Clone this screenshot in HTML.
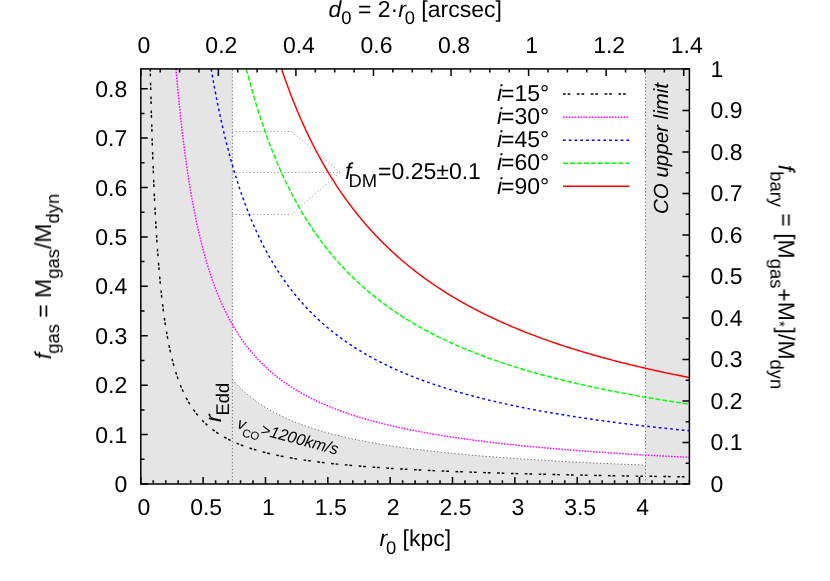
<!DOCTYPE html>
<html><head><meta charset="utf-8"><title>plot</title>
<style>html,body{margin:0;padding:0;background:#fff;}svg{display:block;}text{font-family:"Liberation Sans",sans-serif;fill:#000;text-rendering:geometricPrecision;}.i{font-style:italic;}</style></head><body>
<svg width="830" height="581" viewBox="0 0 830 581">
<rect width="830" height="581" fill="#fff"/>
<rect x="140.8" y="68.9" width="91.60" height="415.1" fill="#e5e5e5"/>
<rect x="645.51" y="68.9" width="43.89" height="415.1" fill="#e5e5e5"/>
<path d="M232.40,379.75 L234.47,382.04 L236.53,384.24 L238.60,386.35 L240.67,388.37 L242.73,390.31 L244.80,392.17 L246.86,393.96 L248.93,395.68 L250.99,397.33 L253.06,398.93 L255.12,400.47 L257.19,401.95 L259.26,403.38 L261.32,404.76 L263.39,406.10 L265.45,407.39 L267.52,408.63 L269.58,409.84 L271.65,411.01 L273.71,412.15 L275.78,413.25 L277.85,414.31 L279.91,415.35 L281.98,416.35 L284.04,417.33 L286.11,418.28 L288.17,419.20 L290.24,420.09 L292.30,420.96 L294.37,421.81 L296.44,422.64 L298.50,423.44 L300.57,424.22 L302.63,424.99 L304.70,425.73 L306.76,426.46 L308.83,427.16 L310.89,427.85 L312.96,428.53 L315.03,429.19 L317.09,429.83 L319.16,430.45 L321.22,431.07 L323.29,431.67 L325.35,432.25 L327.42,432.83 L329.48,433.39 L331.55,433.93 L333.62,434.47 L335.68,435.00 L337.75,435.51 L339.81,436.01 L341.88,436.51 L343.94,436.99 L346.01,437.46 L348.07,437.93 L350.14,438.38 L352.21,438.83 L354.27,439.26 L356.34,439.69 L358.40,440.11 L360.47,440.52 L362.53,440.93 L364.60,441.33 L366.66,441.72 L368.73,442.10 L370.80,442.48 L372.86,442.85 L374.93,443.21 L376.99,443.57 L379.06,443.92 L381.12,444.26 L383.19,444.60 L385.25,444.93 L387.32,445.26 L389.38,445.58 L391.45,445.90 L393.52,446.21 L395.58,446.52 L397.65,446.82 L399.71,447.11 L401.78,447.41 L403.84,447.69 L405.91,447.98 L407.97,448.26 L410.04,448.53 L412.11,448.80 L414.17,449.07 L416.24,449.33 L418.30,449.59 L420.37,449.84 L422.43,450.09 L424.50,450.34 L426.56,450.58 L428.63,450.82 L430.70,451.06 L432.76,451.29 L434.83,451.52 L436.89,451.75 L438.96,451.97 L441.02,452.19 L443.09,452.41 L445.15,452.62 L447.22,452.83 L449.29,453.04 L451.35,453.25 L453.42,453.45 L455.48,453.65 L457.55,453.85 L459.61,454.04 L461.68,454.24 L463.74,454.43 L465.81,454.62 L467.88,454.80 L469.94,454.98 L472.01,455.17 L474.07,455.34 L476.14,455.52 L478.20,455.70 L480.27,455.87 L482.33,456.04 L484.40,456.21 L486.47,456.37 L488.53,456.54 L490.60,456.70 L492.66,456.86 L494.73,457.02 L496.79,457.17 L498.86,457.33 L500.92,457.48 L502.99,457.63 L505.06,457.78 L507.12,457.93 L509.19,458.08 L511.25,458.22 L513.32,458.36 L515.38,458.50 L517.45,458.64 L519.51,458.78 L521.58,458.92 L523.65,459.05 L525.71,459.19 L527.78,459.32 L529.84,459.45 L531.91,459.58 L533.97,459.71 L536.04,459.84 L538.10,459.96 L540.17,460.09 L542.23,460.21 L544.30,460.33 L546.37,460.45 L548.43,460.57 L550.50,460.69 L552.56,460.81 L554.63,460.92 L556.69,461.04 L558.76,461.15 L560.82,461.26 L562.89,461.37 L564.96,461.48 L567.02,461.59 L569.09,461.70 L571.15,461.81 L573.22,461.91 L575.28,462.02 L577.35,462.12 L579.41,462.23 L581.48,462.33 L583.55,462.43 L585.61,462.53 L587.68,462.63 L589.74,462.73 L591.81,462.82 L593.87,462.92 L595.94,463.02 L598.00,463.11 L600.07,463.21 L602.14,463.30 L604.20,463.39 L606.27,463.48 L608.33,463.57 L610.40,463.66 L612.46,463.75 L614.53,463.84 L616.59,463.93 L618.66,464.01 L620.73,464.10 L622.79,464.19 L624.86,464.27 L626.92,464.35 L628.99,464.44 L631.05,464.52 L633.12,464.60 L635.18,464.68 L637.25,464.76 L639.32,464.84 L641.38,464.92 L643.45,465.00 L645.51,465.08 L645.51,484.0 L232.40,484.0 Z" fill="#e5e5e5"/>
<path d="M232.40,379.75 L234.47,382.04 L236.53,384.24 L238.60,386.35 L240.67,388.37 L242.73,390.31 L244.80,392.17 L246.86,393.96 L248.93,395.68 L250.99,397.33 L253.06,398.93 L255.12,400.47 L257.19,401.95 L259.26,403.38 L261.32,404.76 L263.39,406.10 L265.45,407.39 L267.52,408.63 L269.58,409.84 L271.65,411.01 L273.71,412.15 L275.78,413.25 L277.85,414.31 L279.91,415.35 L281.98,416.35 L284.04,417.33 L286.11,418.28 L288.17,419.20 L290.24,420.09 L292.30,420.96 L294.37,421.81 L296.44,422.64 L298.50,423.44 L300.57,424.22 L302.63,424.99 L304.70,425.73 L306.76,426.46 L308.83,427.16 L310.89,427.85 L312.96,428.53 L315.03,429.19 L317.09,429.83 L319.16,430.45 L321.22,431.07 L323.29,431.67 L325.35,432.25 L327.42,432.83 L329.48,433.39 L331.55,433.93 L333.62,434.47 L335.68,435.00 L337.75,435.51 L339.81,436.01 L341.88,436.51 L343.94,436.99 L346.01,437.46 L348.07,437.93 L350.14,438.38 L352.21,438.83 L354.27,439.26 L356.34,439.69 L358.40,440.11 L360.47,440.52 L362.53,440.93 L364.60,441.33 L366.66,441.72 L368.73,442.10 L370.80,442.48 L372.86,442.85 L374.93,443.21 L376.99,443.57 L379.06,443.92 L381.12,444.26 L383.19,444.60 L385.25,444.93 L387.32,445.26 L389.38,445.58 L391.45,445.90 L393.52,446.21 L395.58,446.52 L397.65,446.82 L399.71,447.11 L401.78,447.41 L403.84,447.69 L405.91,447.98 L407.97,448.26 L410.04,448.53 L412.11,448.80 L414.17,449.07 L416.24,449.33 L418.30,449.59 L420.37,449.84 L422.43,450.09 L424.50,450.34 L426.56,450.58 L428.63,450.82 L430.70,451.06 L432.76,451.29 L434.83,451.52 L436.89,451.75 L438.96,451.97 L441.02,452.19 L443.09,452.41 L445.15,452.62 L447.22,452.83 L449.29,453.04 L451.35,453.25 L453.42,453.45 L455.48,453.65 L457.55,453.85 L459.61,454.04 L461.68,454.24 L463.74,454.43 L465.81,454.62 L467.88,454.80 L469.94,454.98 L472.01,455.17 L474.07,455.34 L476.14,455.52 L478.20,455.70 L480.27,455.87 L482.33,456.04 L484.40,456.21 L486.47,456.37 L488.53,456.54 L490.60,456.70 L492.66,456.86 L494.73,457.02 L496.79,457.17 L498.86,457.33 L500.92,457.48 L502.99,457.63 L505.06,457.78 L507.12,457.93 L509.19,458.08 L511.25,458.22 L513.32,458.36 L515.38,458.50 L517.45,458.64 L519.51,458.78 L521.58,458.92 L523.65,459.05 L525.71,459.19 L527.78,459.32 L529.84,459.45 L531.91,459.58 L533.97,459.71 L536.04,459.84 L538.10,459.96 L540.17,460.09 L542.23,460.21 L544.30,460.33 L546.37,460.45 L548.43,460.57 L550.50,460.69 L552.56,460.81 L554.63,460.92 L556.69,461.04 L558.76,461.15 L560.82,461.26 L562.89,461.37 L564.96,461.48 L567.02,461.59 L569.09,461.70 L571.15,461.81 L573.22,461.91 L575.28,462.02 L577.35,462.12 L579.41,462.23 L581.48,462.33 L583.55,462.43 L585.61,462.53 L587.68,462.63 L589.74,462.73 L591.81,462.82 L593.87,462.92 L595.94,463.02 L598.00,463.11 L600.07,463.21 L602.14,463.30 L604.20,463.39 L606.27,463.48 L608.33,463.57 L610.40,463.66 L612.46,463.75 L614.53,463.84 L616.59,463.93 L618.66,464.01 L620.73,464.10 L622.79,464.19 L624.86,464.27 L626.92,464.35 L628.99,464.44 L631.05,464.52 L633.12,464.60 L635.18,464.68 L637.25,464.76 L639.32,464.84 L641.38,464.92 L643.45,465.00 L645.51,465.08" stroke="#000" stroke-width="0.6" fill="none" stroke-dasharray="1.16 2.31"/>
<path d="M232.40,484.0 V68.9" stroke="#000" stroke-width="0.6" fill="none" stroke-dasharray="1.16 2.31"/>
<path d="M645.51,484.0 V68.9" stroke="#000" stroke-width="0.6" fill="none" stroke-dasharray="1.16 2.31"/>
<path d="M232.40,131.5 L291.30,131.5 L340.30,172.5" stroke="#000" stroke-width="0.6" fill="none" stroke-dasharray="1.16 2.31" opacity="0.7"/>
<path d="M232.40,172.5 L291.30,172.5 L340.30,172.5" stroke="#000" stroke-width="0.6" fill="none" stroke-dasharray="1.16 2.31" opacity="0.7"/>
<path d="M232.40,214.5 L291.30,214.5 L340.30,172.5" stroke="#000" stroke-width="0.6" fill="none" stroke-dasharray="1.16 2.31" opacity="0.7"/>
<path d="M150.23,68.90 L150.32,73.10 L150.42,77.25 L150.52,81.36 L150.62,85.43 L150.72,89.46 L150.82,93.45 L150.92,97.40 L151.02,101.30 L151.13,105.17 L151.23,109.00 L151.34,112.79 L151.45,116.54 L151.56,120.26 L151.67,123.94 L151.78,127.58 L151.89,131.18 L152.00,134.74 L152.12,138.27 L152.23,141.77 L152.35,145.23 L152.47,148.65 L152.59,152.04 L152.71,155.40 L152.83,158.72 L152.95,162.01 L153.08,165.26 L153.20,168.49 L153.33,171.67 L153.46,174.83 L153.58,177.96 L153.72,181.05 L153.85,184.11 L153.98,187.14 L154.12,190.14 L154.25,193.12 L154.39,196.06 L154.53,198.97 L154.67,201.85 L154.81,204.70 L154.95,207.52 L155.10,210.32 L155.24,213.08 L155.39,215.82 L155.54,218.53 L155.69,221.22 L155.84,223.87 L156.00,226.50 L156.15,229.11 L156.31,231.68 L156.47,234.23 L156.63,236.76 L156.79,239.26 L156.95,241.73 L157.12,244.18 L157.28,246.60 L157.45,249.00 L157.62,251.38 L157.79,253.73 L157.97,256.06 L158.14,258.36 L158.32,260.64 L158.50,262.90 L158.68,265.14 L158.86,267.35 L159.04,269.54 L159.23,271.71 L159.42,273.85 L159.61,275.98 L159.80,278.08 L159.99,280.16 L160.19,282.22 L160.39,284.26 L160.59,286.28 L160.79,288.28 L161.00,290.26 L161.20,292.21 L161.41,294.15 L161.62,296.07 L161.83,297.97 L162.05,299.85 L162.26,301.71 L162.48,303.56 L162.71,305.38 L162.93,307.19 L163.15,308.97 L163.38,310.74 L163.61,312.49 L163.85,314.23 L164.08,315.94 L164.32,317.64 L164.56,319.32 L164.80,320.99 L165.05,322.64 L165.30,324.27 L165.55,325.88 L165.80,327.48 L166.05,329.06 L166.31,330.63 L166.57,332.18 L166.83,333.71 L167.10,335.23 L167.37,336.74 L167.64,338.23 L167.91,339.70 L168.19,341.16 L168.47,342.60 L168.75,344.03 L169.04,345.45 L169.33,346.85 L169.62,348.23 L169.91,349.60 L170.21,350.96 L170.51,352.31 L170.81,353.64 L171.12,354.96 L171.43,356.26 L171.74,357.55 L172.06,358.83 L172.38,360.10 L172.70,361.35 L173.03,362.59 L173.36,363.82 L173.69,365.03 L174.02,366.23 L174.36,367.42 L174.71,368.60 L175.05,369.77 L175.40,370.92 L175.76,372.07 L176.11,373.20 L176.47,374.32 L176.84,375.43 L177.21,376.52 L177.58,377.61 L177.95,378.69 L178.33,379.75 L178.72,380.80 L179.10,381.85 L179.49,382.88 L179.89,383.90 L180.29,384.91 L180.69,385.92 L181.10,386.91 L181.51,387.89 L181.93,388.86 L182.35,389.82 L182.77,390.77 L183.20,391.72 L183.63,392.65 L184.07,393.57 L184.51,394.49 L184.96,395.39 L185.41,396.29 L185.86,397.17 L186.32,398.05 L186.79,398.92 L187.26,399.78 L187.73,400.63 L188.21,401.47 L188.70,402.31 L189.18,403.13 L189.68,403.95 L190.18,404.76 L190.68,405.56 L191.19,406.35 L191.71,407.14 L192.23,407.92 L192.75,408.68 L193.28,409.45 L193.82,410.20 L194.36,410.95 L194.91,411.68 L195.46,412.42 L196.02,413.14 L196.58,413.86 L197.15,414.56 L197.73,415.27 L198.31,415.96 L198.89,416.65 L199.49,417.33 L200.09,418.00 L200.69,418.67 L201.30,419.33 L201.92,419.98 L202.55,420.63 L203.18,421.27 L203.81,421.91 L204.46,422.53 L205.11,423.16 L205.76,423.77 L206.43,424.38 L207.10,424.98 L207.77,425.58 L208.46,426.17 L209.15,426.75 L209.85,427.33 L210.55,427.91 L211.26,428.47 L211.98,429.03 L212.71,429.59 L213.44,430.14 L214.19,430.68 L214.94,431.22 L215.69,431.76 L216.46,432.28 L217.23,432.81 L218.01,433.32 L218.80,433.84 L219.60,434.34 L220.40,434.85 L221.21,435.34 L222.03,435.83 L222.86,436.32 L223.70,436.80 L224.55,437.28 L225.40,437.75 L226.27,438.22 L227.14,438.68 L228.02,439.14 L228.91,439.59 L229.81,440.04 L230.72,440.49 L231.64,440.93 L232.57,441.36 L233.50,441.79 L234.45,442.22 L235.41,442.64 L236.37,443.06 L237.35,443.47 L238.33,443.88 L239.33,444.29 L240.34,444.69 L241.35,445.09 L242.38,445.48 L243.42,445.87 L244.47,446.26 L245.52,446.64 L246.59,447.02 L247.67,447.39 L248.77,447.76 L249.87,448.13 L250.98,448.49 L252.11,448.85 L253.24,449.20 L254.39,449.55 L255.55,449.90 L256.72,450.25 L257.91,450.59 L259.10,450.93 L260.31,451.26 L261.53,451.59 L262.76,451.92 L264.01,452.24 L265.27,452.56 L266.54,452.88 L267.82,453.20 L269.12,453.51 L270.43,453.82 L271.75,454.12 L273.09,454.42 L274.44,454.72 L275.81,455.02 L277.19,455.31 L278.58,455.60 L279.98,455.89 L281.41,456.17 L282.84,456.45 L284.29,456.73 L285.76,457.01 L287.24,457.28 L288.73,457.55 L290.24,457.82 L291.77,458.08 L293.31,458.34 L294.87,458.60 L296.44,458.86 L298.03,459.11 L299.64,459.37 L301.26,459.62 L302.90,459.86 L304.55,460.11 L306.22,460.35 L307.91,460.59 L309.62,460.82 L311.34,461.06 L313.09,461.29 L314.85,461.52 L316.62,461.75 L318.42,461.97 L320.23,462.19 L322.06,462.41 L323.92,462.63 L325.79,462.85 L327.67,463.06 L329.58,463.27 L331.51,463.48 L333.46,463.69 L335.42,463.90 L337.41,464.10 L339.42,464.30 L341.45,464.50 L343.50,464.70 L345.57,464.89 L347.66,465.09 L349.77,465.28 L351.90,465.47 L354.06,465.65 L356.24,465.84 L358.44,466.02 L360.66,466.20 L362.91,466.38 L365.17,466.56 L367.46,466.74 L369.78,466.91 L372.12,467.09 L374.48,467.26 L376.87,467.43 L379.28,467.59 L381.71,467.76 L384.17,467.92 L386.66,468.09 L389.17,468.25 L391.70,468.41 L394.27,468.56 L396.85,468.72 L399.47,468.87 L402.11,469.03 L404.78,469.18 L407.47,469.33 L410.20,469.48 L412.95,469.62 L415.73,469.77 L418.53,469.91 L421.37,470.05 L424.24,470.20 L427.13,470.33 L430.05,470.47 L433.01,470.61 L435.99,470.75 L439.01,470.88 L442.05,471.01 L445.13,471.14 L448.23,471.27 L451.37,471.40 L454.55,471.53 L457.75,471.66 L460.99,471.78 L464.26,471.90 L467.56,472.03 L470.90,472.15 L474.27,472.27 L477.67,472.39 L481.11,472.50 L484.59,472.62 L488.10,472.73 L491.64,472.85 L495.23,472.96 L498.85,473.07 L502.50,473.18 L506.20,473.29 L509.93,473.40 L513.70,473.51 L517.50,473.61 L521.35,473.72 L525.24,473.82 L529.16,473.93 L533.13,474.03 L537.13,474.13 L541.18,474.23 L545.27,474.33 L549.40,474.42 L553.57,474.52 L557.79,474.62 L562.05,474.71 L566.35,474.81 L570.69,474.90 L575.08,474.99 L579.52,475.08 L584.00,475.17 L588.52,475.26 L593.09,475.35 L597.71,475.44 L602.38,475.52 L607.09,475.61 L611.85,475.69 L616.66,475.78 L621.52,475.86 L626.43,475.94 L631.39,476.02 L636.40,476.11 L641.46,476.18 L646.57,476.26 L651.74,476.34 L656.96,476.42 L662.23,476.50 L667.55,476.57 L672.93,476.65 L678.37,476.72 L683.85,476.80 L689.40,476.87" stroke="#000000" stroke-width="1.45" fill="none" stroke-dasharray="2.71 1.91 2.71 6.53"/>
<path d="M175.98,68.90 L176.22,71.74 L176.46,74.56 L176.71,77.36 L176.96,80.15 L177.21,82.91 L177.46,85.66 L177.71,88.38 L177.96,91.09 L178.22,93.78 L178.48,96.45 L178.74,99.10 L179.00,101.74 L179.26,104.35 L179.53,106.95 L179.80,109.53 L180.06,112.09 L180.33,114.64 L180.61,117.17 L180.88,119.68 L181.16,122.17 L181.44,124.65 L181.72,127.11 L182.00,129.55 L182.28,131.97 L182.57,134.38 L182.85,136.78 L183.14,139.15 L183.44,141.51 L183.73,143.86 L184.03,146.18 L184.32,148.50 L184.62,150.79 L184.93,153.07 L185.23,155.34 L185.54,157.59 L185.84,159.82 L186.15,162.04 L186.47,164.24 L186.78,166.43 L187.10,168.61 L187.42,170.76 L187.74,172.91 L188.06,175.04 L188.39,177.15 L188.72,179.25 L189.05,181.34 L189.38,183.41 L189.71,185.47 L190.05,187.51 L190.39,189.54 L190.73,191.55 L191.08,193.55 L191.42,195.54 L191.77,197.52 L192.12,199.48 L192.48,201.42 L192.83,203.36 L193.19,205.28 L193.55,207.19 L193.92,209.08 L194.28,210.96 L194.65,212.83 L195.02,214.69 L195.39,216.53 L195.77,218.36 L196.15,220.18 L196.53,221.98 L196.92,223.78 L197.30,225.56 L197.69,227.33 L198.08,229.08 L198.48,230.83 L198.88,232.56 L199.28,234.28 L199.68,235.99 L200.08,237.69 L200.49,239.37 L200.90,241.05 L201.32,242.71 L201.74,244.36 L202.16,246.00 L202.58,247.63 L203.00,249.25 L203.43,250.85 L203.86,252.45 L204.30,254.04 L204.74,255.61 L205.18,257.17 L205.62,258.72 L206.07,260.27 L206.52,261.80 L206.97,263.32 L207.43,264.83 L207.88,266.33 L208.35,267.82 L208.81,269.30 L209.28,270.77 L209.75,272.23 L210.23,273.68 L210.71,275.12 L211.19,276.54 L211.67,277.96 L212.16,279.37 L212.65,280.78 L213.15,282.17 L213.65,283.55 L214.15,284.92 L214.65,286.28 L215.16,287.63 L215.68,288.98 L216.19,290.31 L216.71,291.64 L217.23,292.96 L217.76,294.26 L218.29,295.56 L218.83,296.85 L219.36,298.13 L219.90,299.40 L220.45,300.67 L221.00,301.92 L221.55,303.17 L222.11,304.41 L222.67,305.63 L223.23,306.86 L223.80,308.07 L224.37,309.27 L224.95,310.47 L225.53,311.66 L226.11,312.83 L226.70,314.01 L227.29,315.17 L227.89,316.33 L228.49,317.47 L229.09,318.61 L229.70,319.74 L230.31,320.87 L230.93,321.98 L231.55,323.09 L232.18,324.19 L232.81,325.29 L233.44,326.37 L234.08,327.45 L234.72,328.52 L235.37,329.59 L236.02,330.65 L236.68,331.70 L237.34,332.74 L238.00,333.77 L238.67,334.80 L239.35,335.82 L240.03,336.84 L240.71,337.84 L241.40,338.84 L242.09,339.84 L242.79,340.82 L243.49,341.80 L244.20,342.78 L244.91,343.74 L245.63,344.70 L246.35,345.66 L247.08,346.60 L247.81,347.54 L248.55,348.48 L249.29,349.40 L250.04,350.33 L250.79,351.24 L251.55,352.15 L252.31,353.05 L253.08,353.95 L253.86,354.84 L254.63,355.72 L255.42,356.60 L256.21,357.47 L257.00,358.34 L257.80,359.20 L258.61,360.05 L259.42,360.90 L260.24,361.74 L261.06,362.58 L261.89,363.41 L262.73,364.24 L263.57,365.06 L264.41,365.87 L265.26,366.68 L266.12,367.48 L266.99,368.28 L267.86,369.07 L268.73,369.86 L269.61,370.64 L270.50,371.41 L271.39,372.18 L272.29,372.95 L273.20,373.71 L274.11,374.46 L275.03,375.21 L275.96,375.96 L276.89,376.70 L277.82,377.43 L278.77,378.16 L279.72,378.89 L280.68,379.61 L281.64,380.32 L282.61,381.03 L283.59,381.73 L284.57,382.43 L285.56,383.13 L286.56,383.82 L287.57,384.51 L288.58,385.19 L289.60,385.86 L290.62,386.53 L291.65,387.20 L292.69,387.86 L293.74,388.52 L294.79,389.17 L295.85,389.82 L296.92,390.47 L298.00,391.11 L299.08,391.74 L300.17,392.38 L301.27,393.00 L302.38,393.63 L303.49,394.24 L304.61,394.86 L305.74,395.47 L306.88,396.07 L308.02,396.68 L309.17,397.27 L310.33,397.87 L311.50,398.46 L312.68,399.04 L313.86,399.62 L315.05,400.20 L316.26,400.77 L317.46,401.34 L318.68,401.91 L319.91,402.47 L321.14,403.03 L322.38,403.58 L323.64,404.13 L324.90,404.68 L326.16,405.22 L327.44,405.76 L328.73,406.30 L330.02,406.83 L331.33,407.36 L332.64,407.88 L333.96,408.40 L335.29,408.92 L336.63,409.43 L337.98,409.94 L339.34,410.45 L340.71,410.95 L342.09,411.45 L343.47,411.95 L344.87,412.44 L346.28,412.93 L347.69,413.42 L349.12,413.90 L350.55,414.38 L352.00,414.86 L353.46,415.33 L354.92,415.80 L356.40,416.27 L357.88,416.73 L359.38,417.19 L360.88,417.65 L362.40,418.10 L363.93,418.56 L365.47,419.00 L367.01,419.45 L368.57,419.89 L370.14,420.33 L371.72,420.76 L373.31,421.20 L374.92,421.63 L376.53,422.05 L378.15,422.48 L379.79,422.90 L381.44,423.32 L383.09,423.73 L384.76,424.15 L386.45,424.55 L388.14,424.96 L389.84,425.37 L391.56,425.77 L393.29,426.17 L395.03,426.56 L396.78,426.95 L398.54,427.34 L400.32,427.73 L402.11,428.12 L403.91,428.50 L405.72,428.88 L407.55,429.26 L409.38,429.63 L411.23,430.00 L413.10,430.37 L414.97,430.74 L416.86,431.10 L418.77,431.47 L420.68,431.83 L422.61,432.18 L424.55,432.54 L426.51,432.89 L428.48,433.24 L430.46,433.59 L432.46,433.93 L434.46,434.28 L436.49,434.62 L438.53,434.95 L440.58,435.29 L442.64,435.62 L444.72,435.95 L446.82,436.28 L448.93,436.61 L451.05,436.93 L453.19,437.26 L455.34,437.58 L457.51,437.89 L459.69,438.21 L461.89,438.52 L464.10,438.83 L466.33,439.14 L468.57,439.45 L470.83,439.75 L473.10,440.06 L475.39,440.36 L477.70,440.66 L480.02,440.95 L482.36,441.25 L484.71,441.54 L487.08,441.83 L489.47,442.12 L491.87,442.41 L494.29,442.69 L496.73,442.97 L499.18,443.25 L501.65,443.53 L504.14,443.81 L506.64,444.09 L509.16,444.36 L511.70,444.63 L514.25,444.90 L516.83,445.17 L519.42,445.43 L522.03,445.70 L524.66,445.96 L527.30,446.22 L529.96,446.48 L532.65,446.73 L535.35,446.99 L538.06,447.24 L540.80,447.49 L543.56,447.74 L546.33,447.99 L549.13,448.24 L551.94,448.48 L554.78,448.73 L557.63,448.97 L560.50,449.21 L563.39,449.45 L566.31,449.68 L569.24,449.92 L572.19,450.15 L575.16,450.38 L578.16,450.61 L581.17,450.84 L584.20,451.07 L587.26,451.29 L590.34,451.52 L593.43,451.74 L596.55,451.96 L599.69,452.18 L602.86,452.40 L606.04,452.61 L609.25,452.83 L612.47,453.04 L615.72,453.25 L619.00,453.46 L622.29,453.67 L625.61,453.88 L628.95,454.09 L632.31,454.29 L635.70,454.49 L639.11,454.70 L642.55,454.90 L646.00,455.10 L649.48,455.29 L652.99,455.49 L656.52,455.69 L660.07,455.88 L663.65,456.07 L667.25,456.26 L670.88,456.45 L674.54,456.64 L678.21,456.83 L681.92,457.01 L685.65,457.20 L689.40,457.38" stroke="#ff00ff" stroke-width="1.45" fill="none" stroke-dasharray="1.56 1.33"/>
<path d="M211.16,68.90 L211.52,71.03 L211.88,73.14 L212.25,75.24 L212.62,77.34 L212.99,79.42 L213.36,81.49 L213.73,83.55 L214.11,85.61 L214.48,87.65 L214.86,89.68 L215.24,91.69 L215.63,93.70 L216.01,95.70 L216.40,97.69 L216.79,99.67 L217.18,101.64 L217.57,103.60 L217.97,105.54 L218.37,107.48 L218.77,109.41 L219.17,111.33 L219.57,113.24 L219.98,115.14 L220.38,117.03 L220.79,118.91 L221.20,120.77 L221.62,122.64 L222.03,124.49 L222.45,126.33 L222.87,128.16 L223.30,129.98 L223.72,131.79 L224.15,133.60 L224.58,135.39 L225.01,137.18 L225.44,138.95 L225.88,140.72 L226.31,142.48 L226.75,144.23 L227.20,145.97 L227.64,147.70 L228.09,149.42 L228.54,151.14 L228.99,152.84 L229.44,154.54 L229.90,156.22 L230.36,157.90 L230.82,159.57 L231.28,161.23 L231.75,162.89 L232.22,164.53 L232.69,166.17 L233.16,167.79 L233.64,169.41 L234.11,171.03 L234.59,172.63 L235.08,174.22 L235.56,175.81 L236.05,177.39 L236.54,178.96 L237.03,180.52 L237.53,182.07 L238.03,183.62 L238.53,185.16 L239.03,186.69 L239.54,188.21 L240.04,189.73 L240.55,191.23 L241.07,192.73 L241.58,194.23 L242.10,195.71 L242.62,197.19 L243.15,198.65 L243.68,200.12 L244.21,201.57 L244.74,203.02 L245.27,204.46 L245.81,205.89 L246.35,207.31 L246.89,208.73 L247.44,210.14 L247.99,211.54 L248.54,212.94 L249.10,214.32 L249.65,215.70 L250.21,217.08 L250.78,218.45 L251.34,219.81 L251.91,221.16 L252.48,222.51 L253.06,223.84 L253.64,225.18 L254.22,226.50 L254.80,227.82 L255.39,229.13 L255.98,230.44 L256.57,231.74 L257.17,233.03 L257.77,234.31 L258.37,235.59 L258.97,236.86 L259.58,238.13 L260.19,239.39 L260.81,240.64 L261.43,241.89 L262.05,243.13 L262.67,244.36 L263.30,245.59 L263.93,246.81 L264.56,248.03 L265.20,249.23 L265.84,250.44 L266.48,251.63 L267.13,252.82 L267.78,254.01 L268.43,255.18 L269.09,256.36 L269.75,257.52 L270.42,258.68 L271.08,259.84 L271.75,260.98 L272.43,262.13 L273.11,263.26 L273.79,264.39 L274.47,265.52 L275.16,266.64 L275.85,267.75 L276.55,268.86 L277.24,269.96 L277.95,271.05 L278.65,272.15 L279.36,273.23 L280.08,274.31 L280.79,275.38 L281.51,276.45 L282.24,277.52 L282.97,278.57 L283.70,279.62 L284.43,280.67 L285.17,281.71 L285.92,282.75 L286.66,283.78 L287.41,284.80 L288.17,285.82 L288.93,286.84 L289.69,287.85 L290.46,288.85 L291.23,289.85 L292.00,290.85 L292.78,291.84 L293.56,292.82 L294.35,293.80 L295.14,294.77 L295.93,295.74 L296.73,296.71 L297.53,297.67 L298.34,298.62 L299.15,299.57 L299.97,300.51 L300.79,301.45 L301.61,302.39 L302.44,303.32 L303.27,304.24 L304.11,305.17 L304.95,306.08 L305.79,306.99 L306.64,307.90 L307.50,308.80 L308.35,309.70 L309.22,310.59 L310.08,311.48 L310.95,312.36 L311.83,313.24 L312.71,314.12 L313.60,314.99 L314.48,315.85 L315.38,316.71 L316.28,317.57 L317.18,318.42 L318.09,319.27 L319.00,320.11 L319.92,320.95 L320.84,321.79 L321.77,322.62 L322.70,323.44 L323.64,324.27 L324.58,325.09 L325.52,325.90 L326.47,326.71 L327.43,327.51 L328.39,328.32 L329.36,329.11 L330.33,329.91 L331.30,330.70 L332.28,331.48 L333.27,332.26 L334.26,333.04 L335.26,333.81 L336.26,334.58 L337.26,335.35 L338.27,336.11 L339.29,336.86 L340.31,337.62 L341.34,338.37 L342.37,339.11 L343.41,339.86 L344.45,340.59 L345.50,341.33 L346.55,342.06 L347.61,342.79 L348.68,343.51 L349.75,344.23 L350.82,344.94 L351.90,345.66 L352.99,346.37 L354.08,347.07 L355.18,347.77 L356.28,348.47 L357.39,349.16 L358.51,349.85 L359.63,350.54 L360.76,351.22 L361.89,351.90 L363.03,352.58 L364.17,353.25 L365.32,353.92 L366.48,354.59 L367.64,355.25 L368.81,355.91 L369.98,356.57 L371.16,357.22 L372.34,357.87 L373.54,358.52 L374.73,359.16 L375.94,359.80 L377.15,360.43 L378.37,361.07 L379.59,361.70 L380.82,362.32 L382.05,362.95 L383.30,363.57 L384.54,364.18 L385.80,364.80 L387.06,365.41 L388.33,366.01 L389.60,366.62 L390.88,367.22 L392.17,367.82 L393.46,368.41 L394.76,369.00 L396.07,369.59 L397.39,370.18 L398.71,370.76 L400.03,371.34 L401.37,371.92 L402.71,372.49 L404.06,373.06 L405.41,373.63 L406.78,374.20 L408.14,374.76 L409.52,375.32 L410.90,375.88 L412.29,376.43 L413.69,376.98 L415.10,377.53 L416.51,378.07 L417.93,378.62 L419.36,379.16 L420.79,379.69 L422.23,380.23 L423.68,380.76 L425.14,381.29 L426.60,381.81 L428.07,382.34 L429.55,382.86 L431.04,383.38 L432.53,383.89 L434.03,384.40 L435.54,384.91 L437.06,385.42 L438.58,385.93 L440.12,386.43 L441.66,386.93 L443.21,387.42 L444.76,387.92 L446.33,388.41 L447.90,388.90 L449.48,389.39 L451.07,389.87 L452.67,390.35 L454.27,390.83 L455.89,391.31 L457.51,391.79 L459.14,392.26 L460.78,392.73 L462.42,393.20 L464.08,393.66 L465.74,394.12 L467.42,394.58 L469.10,395.04 L470.79,395.50 L472.49,395.95 L474.19,396.40 L475.91,396.85 L477.63,397.30 L479.37,397.74 L481.11,398.18 L482.86,398.62 L484.62,399.06 L486.39,399.49 L488.17,399.93 L489.96,400.36 L491.76,400.79 L493.57,401.21 L495.38,401.64 L497.21,402.06 L499.04,402.48 L500.89,402.89 L502.74,403.31 L504.60,403.72 L506.47,404.13 L508.36,404.54 L510.25,404.95 L512.15,405.36 L514.06,405.76 L515.98,406.16 L517.92,406.56 L519.86,406.95 L521.81,407.35 L523.77,407.74 L525.74,408.13 L527.72,408.52 L529.71,408.91 L531.72,409.29 L533.73,409.67 L535.75,410.05 L537.78,410.43 L539.83,410.81 L541.88,411.18 L543.95,411.56 L546.02,411.93 L548.11,412.30 L550.20,412.67 L552.31,413.03 L554.43,413.39 L556.56,413.76 L558.70,414.12 L560.85,414.47 L563.01,414.83 L565.19,415.18 L567.37,415.54 L569.57,415.89 L571.77,416.24 L573.99,416.58 L576.22,416.93 L578.46,417.27 L580.72,417.61 L582.98,417.95 L585.26,418.29 L587.55,418.63 L589.85,418.96 L592.16,419.30 L594.48,419.63 L596.82,419.96 L599.16,420.28 L601.52,420.61 L603.89,420.94 L606.28,421.26 L608.67,421.58 L611.08,421.90 L613.50,422.22 L615.94,422.53 L618.38,422.85 L620.84,423.16 L623.31,423.47 L625.80,423.78 L628.29,424.09 L630.80,424.40 L633.32,424.70 L635.86,425.01 L638.41,425.31 L640.97,425.61 L643.55,425.91 L646.13,426.21 L648.73,426.50 L651.35,426.80 L653.98,427.09 L656.62,427.38 L659.27,427.67 L661.94,427.96 L664.63,428.25 L667.32,428.53 L670.03,428.82 L672.76,429.10 L675.50,429.38 L678.25,429.66 L681.01,429.94 L683.80,430.22 L686.59,430.49 L689.40,430.76" stroke="#0000ff" stroke-width="1.45" fill="none" stroke-dasharray="2.71 3.06"/>
<path d="M246.33,68.90 L246.77,70.61 L247.21,72.31 L247.65,74.00 L248.09,75.69 L248.53,77.37 L248.98,79.04 L249.42,80.70 L249.87,82.36 L250.32,84.01 L250.77,85.66 L251.23,87.30 L251.68,88.93 L252.14,90.55 L252.60,92.17 L253.06,93.78 L253.53,95.39 L253.99,96.98 L254.46,98.58 L254.93,100.16 L255.40,101.74 L255.87,103.31 L256.35,104.88 L256.83,106.44 L257.31,107.99 L257.79,109.53 L258.27,111.07 L258.75,112.61 L259.24,114.14 L259.73,115.66 L260.22,117.17 L260.71,118.68 L261.21,120.18 L261.71,121.68 L262.21,123.17 L262.71,124.65 L263.21,126.13 L263.72,127.60 L264.22,129.07 L264.73,130.53 L265.25,131.98 L265.76,133.43 L266.28,134.87 L266.79,136.31 L267.31,137.74 L267.84,139.16 L268.36,140.58 L268.89,141.99 L269.42,143.40 L269.95,144.80 L270.48,146.19 L271.02,147.58 L271.55,148.96 L272.09,150.34 L272.64,151.71 L273.18,153.08 L273.73,154.44 L274.28,155.80 L274.83,157.15 L275.38,158.49 L275.94,159.83 L276.49,161.16 L277.05,162.49 L277.62,163.81 L278.18,165.13 L278.75,166.44 L279.32,167.75 L279.89,169.05 L280.47,170.34 L281.04,171.63 L281.62,172.92 L282.20,174.20 L282.79,175.47 L283.37,176.74 L283.96,178.00 L284.55,179.26 L285.15,180.51 L285.74,181.76 L286.34,183.00 L286.94,184.24 L287.55,185.48 L288.15,186.70 L288.76,187.93 L289.37,189.14 L289.98,190.36 L290.60,191.56 L291.22,192.77 L291.84,193.96 L292.46,195.16 L293.09,196.34 L293.72,197.53 L294.35,198.71 L294.98,199.88 L295.62,201.05 L296.26,202.21 L296.90,203.37 L297.55,204.52 L298.19,205.67 L298.84,206.82 L299.50,207.96 L300.15,209.09 L300.81,210.22 L301.47,211.35 L302.13,212.47 L302.80,213.59 L303.47,214.70 L304.14,215.81 L304.82,216.91 L305.49,218.01 L306.17,219.10 L306.86,220.19 L307.54,221.28 L308.23,222.36 L308.92,223.43 L309.62,224.50 L310.31,225.57 L311.01,226.63 L311.72,227.69 L312.42,228.75 L313.13,229.80 L313.84,230.84 L314.56,231.88 L315.27,232.92 L315.99,233.95 L316.72,234.98 L317.44,236.00 L318.17,237.02 L318.91,238.04 L319.64,239.05 L320.38,240.06 L321.12,241.06 L321.87,242.06 L322.61,243.05 L323.37,244.05 L324.12,245.03 L324.88,246.02 L325.64,246.99 L326.40,247.97 L327.17,248.94 L327.94,249.91 L328.71,250.87 L329.48,251.83 L330.26,252.78 L331.05,253.73 L331.83,254.68 L332.62,255.62 L333.41,256.56 L334.21,257.50 L335.01,258.43 L335.81,259.36 L336.61,260.28 L337.42,261.20 L338.23,262.12 L339.05,263.03 L339.87,263.94 L340.69,264.84 L341.51,265.74 L342.34,266.64 L343.18,267.54 L344.01,268.43 L344.85,269.31 L345.69,270.19 L346.54,271.07 L347.39,271.95 L348.24,272.82 L349.10,273.69 L349.96,274.56 L350.82,275.42 L351.69,276.27 L352.56,277.13 L353.44,277.98 L354.31,278.83 L355.19,279.67 L356.08,280.51 L356.97,281.35 L357.86,282.18 L358.76,283.01 L359.66,283.84 L360.56,284.66 L361.47,285.48 L362.38,286.30 L363.30,287.11 L364.21,287.92 L365.14,288.73 L366.06,289.53 L366.99,290.33 L367.93,291.12 L368.87,291.92 L369.81,292.71 L370.75,293.49 L371.70,294.28 L372.66,295.06 L373.61,295.84 L374.57,296.61 L375.54,297.38 L376.51,298.15 L377.48,298.91 L378.46,299.67 L379.44,300.43 L380.43,301.19 L381.42,301.94 L382.41,302.69 L383.41,303.43 L384.41,304.17 L385.42,304.91 L386.43,305.65 L387.44,306.38 L388.46,307.11 L389.48,307.84 L390.51,308.57 L391.54,309.29 L392.57,310.01 L393.61,310.72 L394.66,311.43 L395.71,312.14 L396.76,312.85 L397.82,313.55 L398.88,314.25 L399.94,314.95 L401.01,315.65 L402.09,316.34 L403.17,317.03 L404.25,317.72 L405.34,318.40 L406.43,319.08 L407.53,319.76 L408.63,320.43 L409.73,321.11 L410.84,321.78 L411.96,322.44 L413.08,323.11 L414.20,323.77 L415.33,324.43 L416.47,325.09 L417.60,325.74 L418.75,326.39 L419.90,327.04 L421.05,327.68 L422.20,328.33 L423.37,328.97 L424.53,329.60 L425.71,330.24 L426.88,330.87 L428.06,331.50 L429.25,332.13 L430.44,332.75 L431.64,333.37 L432.84,333.99 L434.04,334.61 L435.25,335.23 L436.47,335.84 L437.69,336.45 L438.92,337.05 L440.15,337.66 L441.38,338.26 L442.63,338.86 L443.87,339.46 L445.12,340.05 L446.38,340.64 L447.64,341.23 L448.91,341.82 L450.18,342.40 L451.46,342.99 L452.74,343.57 L454.03,344.14 L455.32,344.72 L456.62,345.29 L457.93,345.86 L459.24,346.43 L460.55,347.00 L461.87,347.56 L463.20,348.12 L464.53,348.68 L465.86,349.24 L467.21,349.79 L468.55,350.34 L469.91,350.89 L471.27,351.44 L472.63,351.98 L474.00,352.53 L475.38,353.07 L476.76,353.61 L478.15,354.14 L479.54,354.68 L480.94,355.21 L482.34,355.74 L483.75,356.26 L485.17,356.79 L486.59,357.31 L488.02,357.83 L489.45,358.35 L490.89,358.87 L492.34,359.38 L493.79,359.90 L495.25,360.41 L496.71,360.92 L498.18,361.42 L499.66,361.93 L501.14,362.43 L502.63,362.93 L504.12,363.43 L505.62,363.92 L507.13,364.42 L508.64,364.91 L510.16,365.40 L511.68,365.88 L513.22,366.37 L514.75,366.85 L516.30,367.34 L517.85,367.82 L519.41,368.29 L520.97,368.77 L522.54,369.24 L524.11,369.71 L525.70,370.18 L527.29,370.65 L528.88,371.12 L530.49,371.58 L532.09,372.05 L533.71,372.51 L535.33,372.96 L536.96,373.42 L538.60,373.88 L540.24,374.33 L541.89,374.78 L543.55,375.23 L545.21,375.68 L546.88,376.12 L548.56,376.57 L550.24,377.01 L551.93,377.45 L553.63,377.89 L555.33,378.32 L557.04,378.76 L558.76,379.19 L560.49,379.62 L562.22,380.05 L563.96,380.48 L565.71,380.90 L567.46,381.33 L569.23,381.75 L571.00,382.17 L572.77,382.59 L574.56,383.00 L576.35,383.42 L578.15,383.83 L579.95,384.25 L581.76,384.66 L583.59,385.06 L585.41,385.47 L587.25,385.88 L589.09,386.28 L590.94,386.68 L592.80,387.08 L594.67,387.48 L596.54,387.88 L598.43,388.27 L600.32,388.67 L602.21,389.06 L604.12,389.45 L606.03,389.84 L607.95,390.23 L609.88,390.61 L611.82,390.99 L613.76,391.38 L615.72,391.76 L617.68,392.14 L619.65,392.52 L621.62,392.89 L623.61,393.27 L625.60,393.64 L627.61,394.01 L629.62,394.38 L631.63,394.75 L633.66,395.12 L635.70,395.48 L637.74,395.85 L639.79,396.21 L641.85,396.57 L643.92,396.93 L646.00,397.29 L648.09,397.64 L650.18,398.00 L652.28,398.35 L654.40,398.70 L656.52,399.06 L658.65,399.40 L660.78,399.75 L662.93,400.10 L665.09,400.44 L667.25,400.79 L669.43,401.13 L671.61,401.47 L673.80,401.81 L676.00,402.15 L678.21,402.48 L680.43,402.82 L682.66,403.15 L684.90,403.49 L687.14,403.82 L689.40,404.15" stroke="#00ff00" stroke-width="1.45" fill="none" stroke-dasharray="5.02 1.91"/>
<path d="M281.51,68.90 L281.99,70.31 L282.47,71.71 L282.96,73.11 L283.44,74.51 L283.93,75.90 L284.41,77.29 L284.90,78.67 L285.39,80.04 L285.89,81.42 L286.38,82.78 L286.88,84.15 L287.37,85.50 L287.87,86.86 L288.38,88.20 L288.88,89.55 L289.38,90.89 L289.89,92.22 L290.40,93.55 L290.91,94.88 L291.42,96.20 L291.93,97.52 L292.45,98.83 L292.96,100.14 L293.48,101.44 L294.00,102.74 L294.52,104.04 L295.05,105.33 L295.57,106.61 L296.10,107.89 L296.63,109.17 L297.16,110.44 L297.69,111.71 L298.23,112.98 L298.76,114.24 L299.30,115.49 L299.84,116.74 L300.39,117.99 L300.93,119.23 L301.47,120.47 L302.02,121.71 L302.57,122.94 L303.12,124.16 L303.68,125.39 L304.23,126.60 L304.79,127.82 L305.35,129.03 L305.91,130.23 L306.47,131.43 L307.03,132.63 L307.60,133.82 L308.17,135.01 L308.74,136.20 L309.31,137.38 L309.89,138.56 L310.46,139.73 L311.04,140.90 L311.62,142.06 L312.20,143.22 L312.79,144.38 L313.37,145.53 L313.96,146.68 L314.55,147.83 L315.14,148.97 L315.74,150.11 L316.33,151.24 L316.93,152.37 L317.53,153.50 L318.13,154.62 L318.74,155.74 L319.34,156.85 L319.95,157.97 L320.56,159.07 L321.17,160.18 L321.79,161.28 L322.41,162.37 L323.02,163.46 L323.65,164.55 L324.27,165.64 L324.89,166.72 L325.52,167.80 L326.15,168.87 L326.78,169.94 L327.42,171.01 L328.05,172.07 L328.69,173.13 L329.33,174.18 L329.97,175.24 L330.62,176.28 L331.26,177.33 L331.91,178.37 L332.56,179.41 L333.22,180.44 L333.87,181.47 L334.53,182.50 L335.19,183.52 L335.85,184.55 L336.52,185.56 L337.19,186.58 L337.85,187.59 L338.53,188.59 L339.20,189.60 L339.88,190.60 L340.55,191.59 L341.23,192.58 L341.92,193.57 L342.60,194.56 L343.29,195.54 L343.98,196.52 L344.67,197.50 L345.37,198.47 L346.06,199.44 L346.76,200.41 L347.47,201.37 L348.17,202.33 L348.88,203.29 L349.59,204.24 L350.30,205.19 L351.01,206.14 L351.73,207.08 L352.45,208.02 L353.17,208.96 L353.89,209.89 L354.62,210.82 L355.35,211.75 L356.08,212.68 L356.81,213.60 L357.55,214.52 L358.28,215.43 L359.03,216.34 L359.77,217.25 L360.51,218.16 L361.26,219.06 L362.01,219.96 L362.77,220.86 L363.52,221.75 L364.28,222.64 L365.05,223.53 L365.81,224.41 L366.58,225.29 L367.35,226.17 L368.12,227.05 L368.89,227.92 L369.67,228.79 L370.45,229.66 L371.23,230.52 L372.02,231.38 L372.80,232.24 L373.60,233.09 L374.39,233.95 L375.18,234.80 L375.98,235.64 L376.78,236.48 L377.59,237.33 L378.40,238.16 L379.20,239.00 L380.02,239.83 L380.83,240.66 L381.65,241.49 L382.47,242.31 L383.29,243.13 L384.12,243.95 L384.95,244.76 L385.78,245.58 L386.62,246.38 L387.45,247.19 L388.29,248.00 L389.14,248.80 L389.98,249.60 L390.83,250.39 L391.69,251.19 L392.54,251.98 L393.40,252.76 L394.26,253.55 L395.12,254.33 L395.99,255.11 L396.86,255.89 L397.73,256.66 L398.61,257.44 L399.48,258.20 L400.37,258.97 L401.25,259.74 L402.14,260.50 L403.03,261.26 L403.92,262.01 L404.82,262.77 L405.72,263.52 L406.62,264.27 L407.53,265.01 L408.44,265.76 L409.35,266.50 L410.26,267.24 L411.18,267.97 L412.10,268.71 L413.03,269.44 L413.95,270.17 L414.88,270.89 L415.82,271.62 L416.76,272.34 L417.70,273.06 L418.64,273.77 L419.59,274.49 L420.54,275.20 L421.49,275.91 L422.45,276.61 L423.41,277.32 L424.37,278.02 L425.33,278.72 L426.30,279.42 L427.28,280.11 L428.25,280.80 L429.23,281.49 L430.22,282.18 L431.20,282.87 L432.19,283.55 L433.18,284.23 L434.18,284.91 L435.18,285.58 L436.18,286.26 L437.19,286.93 L438.20,287.60 L439.21,288.27 L440.23,288.93 L441.25,289.59 L442.27,290.25 L443.30,290.91 L444.33,291.57 L445.37,292.22 L446.40,292.87 L447.45,293.52 L448.49,294.17 L449.54,294.81 L450.59,295.45 L451.65,296.09 L452.71,296.73 L453.77,297.37 L454.83,298.00 L455.90,298.63 L456.98,299.26 L458.06,299.89 L459.14,300.52 L460.22,301.14 L461.31,301.76 L462.40,302.38 L463.50,303.00 L464.60,303.61 L465.70,304.22 L466.81,304.83 L467.92,305.44 L469.03,306.05 L470.15,306.65 L471.27,307.25 L472.40,307.85 L473.53,308.45 L474.66,309.05 L475.80,309.64 L476.94,310.24 L478.09,310.83 L479.24,311.41 L480.39,312.00 L481.55,312.58 L482.71,313.17 L483.87,313.75 L485.04,314.32 L486.22,314.90 L487.39,315.47 L488.57,316.05 L489.76,316.62 L490.95,317.19 L492.14,317.75 L493.34,318.32 L494.54,318.88 L495.74,319.44 L496.95,320.00 L498.17,320.56 L499.39,321.11 L500.61,321.66 L501.83,322.22 L503.06,322.76 L504.30,323.31 L505.54,323.86 L506.78,324.40 L508.03,324.94 L509.28,325.48 L510.53,326.02 L511.79,326.56 L513.06,327.09 L514.33,327.63 L515.60,328.16 L516.88,328.69 L518.16,329.21 L519.44,329.74 L520.73,330.26 L522.03,330.79 L523.33,331.31 L524.63,331.82 L525.94,332.34 L527.25,332.86 L528.57,333.37 L529.89,333.88 L531.21,334.39 L532.54,334.90 L533.88,335.40 L535.22,335.91 L536.56,336.41 L537.91,336.91 L539.26,337.41 L540.62,337.91 L541.98,338.41 L543.35,338.90 L544.72,339.39 L546.10,339.88 L547.48,340.37 L548.87,340.86 L550.26,341.35 L551.65,341.83 L553.05,342.32 L554.46,342.80 L555.87,343.28 L557.28,343.75 L558.70,344.23 L560.12,344.70 L561.55,345.18 L562.99,345.65 L564.42,346.12 L565.87,346.59 L567.32,347.05 L568.77,347.52 L570.23,347.98 L571.69,348.44 L573.16,348.90 L574.63,349.36 L576.11,349.82 L577.59,350.28 L579.08,350.73 L580.58,351.18 L582.07,351.63 L583.58,352.08 L585.09,352.53 L586.60,352.98 L588.12,353.42 L589.64,353.87 L591.17,354.31 L592.71,354.75 L594.25,355.19 L595.79,355.62 L597.34,356.06 L598.90,356.50 L600.46,356.93 L602.03,357.36 L603.60,357.79 L605.17,358.22 L606.76,358.65 L608.34,359.07 L609.94,359.50 L611.54,359.92 L613.14,360.34 L614.75,360.76 L616.36,361.18 L617.98,361.60 L619.61,362.01 L621.24,362.43 L622.88,362.84 L624.52,363.25 L626.17,363.66 L627.82,364.07 L629.48,364.48 L631.15,364.88 L632.82,365.29 L634.50,365.69 L636.18,366.09 L637.87,366.49 L639.56,366.89 L641.26,367.29 L642.96,367.68 L644.68,368.08 L646.39,368.47 L648.11,368.87 L649.84,369.26 L651.58,369.65 L653.32,370.03 L655.06,370.42 L656.82,370.81 L658.58,371.19 L660.34,371.57 L662.11,371.96 L663.89,372.34 L665.67,372.72 L667.46,373.09 L669.25,373.47 L671.05,373.85 L672.86,374.22 L674.67,374.59 L676.49,374.96 L678.32,375.33 L680.15,375.70 L681.99,376.07 L683.83,376.44 L685.68,376.80 L687.54,377.17 L689.40,377.53" stroke="#ff0000" stroke-width="1.45" fill="none"/>
<path d="M140.80,484.0 v-7.0 M153.27,484.0 v-3.7 M165.74,484.0 v-3.7 M178.20,484.0 v-3.7 M190.67,484.0 v-3.7 M203.14,484.0 v-7.0 M215.61,484.0 v-3.7 M228.08,484.0 v-3.7 M240.55,484.0 v-3.7 M253.01,484.0 v-3.7 M265.48,484.0 v-7.0 M277.95,484.0 v-3.7 M290.42,484.0 v-3.7 M302.89,484.0 v-3.7 M315.35,484.0 v-3.7 M327.82,484.0 v-7.0 M340.29,484.0 v-3.7 M352.76,484.0 v-3.7 M365.23,484.0 v-3.7 M377.70,484.0 v-3.7 M390.16,484.0 v-7.0 M402.63,484.0 v-3.7 M415.10,484.0 v-3.7 M427.57,484.0 v-3.7 M440.04,484.0 v-3.7 M452.50,484.0 v-7.0 M464.97,484.0 v-3.7 M477.44,484.0 v-3.7 M489.91,484.0 v-3.7 M502.38,484.0 v-3.7 M514.85,484.0 v-7.0 M527.31,484.0 v-3.7 M539.78,484.0 v-3.7 M552.25,484.0 v-3.7 M564.72,484.0 v-3.7 M577.19,484.0 v-7.0 M589.65,484.0 v-3.7 M602.12,484.0 v-3.7 M614.59,484.0 v-3.7 M627.06,484.0 v-3.7 M639.53,484.0 v-7.0 M652.00,484.0 v-3.7 M664.46,484.0 v-3.7 M676.93,484.0 v-3.7 M689.40,484.0 v-3.7 M140.80,68.9 v7.0 M160.19,68.9 v3.7 M179.58,68.9 v3.7 M198.97,68.9 v3.7 M218.36,68.9 v7.0 M237.75,68.9 v3.7 M257.14,68.9 v3.7 M276.53,68.9 v3.7 M295.92,68.9 v7.0 M315.31,68.9 v3.7 M334.70,68.9 v3.7 M354.09,68.9 v3.7 M373.48,68.9 v7.0 M392.87,68.9 v3.7 M412.26,68.9 v3.7 M431.65,68.9 v3.7 M451.04,68.9 v7.0 M470.43,68.9 v3.7 M489.82,68.9 v3.7 M509.21,68.9 v3.7 M528.60,68.9 v7.0 M547.99,68.9 v3.7 M567.38,68.9 v3.7 M586.77,68.9 v3.7 M606.16,68.9 v7.0 M625.55,68.9 v3.7 M644.94,68.9 v3.7 M664.33,68.9 v3.7 M683.72,68.9 v7.0 M140.8,484.00 h7.0 M140.8,459.29 h3.7 M140.8,434.58 h7.0 M140.8,409.88 h3.7 M140.8,385.17 h7.0 M140.8,360.46 h3.7 M140.8,335.75 h7.0 M140.8,311.04 h3.7 M140.8,286.33 h7.0 M140.8,261.62 h3.7 M140.8,236.92 h7.0 M140.8,212.21 h3.7 M140.8,187.50 h7.0 M140.8,162.79 h3.7 M140.8,138.08 h7.0 M140.8,113.38 h3.7 M140.8,88.67 h7.0 M689.4,484.00 h-7.0 M689.4,463.25 h-3.7 M689.4,442.49 h-7.0 M689.4,421.74 h-3.7 M689.4,400.98 h-7.0 M689.4,380.23 h-3.7 M689.4,359.47 h-7.0 M689.4,338.71 h-3.7 M689.4,317.96 h-7.0 M689.4,297.20 h-3.7 M689.4,276.45 h-7.0 M689.4,255.69 h-3.7 M689.4,234.94 h-7.0 M689.4,214.19 h-3.7 M689.4,193.43 h-7.0 M689.4,172.67 h-3.7 M689.4,151.92 h-7.0 M689.4,131.16 h-3.7 M689.4,110.41 h-7.0 M689.4,89.65 h-3.7 M689.4,68.90 h-7.0" stroke="#000" stroke-width="1.5" fill="none"/>
<rect x="140.8" y="68.9" width="548.5999999999999" height="415.1" fill="none" stroke="#000" stroke-width="1.5"/>
<g opacity="0.999"><g font-size="23.0">
<text x="143.80" y="514.6" text-anchor="middle">0</text>
<text x="206.14" y="514.6" text-anchor="middle">0.5</text>
<text x="268.48" y="514.6" text-anchor="middle">1</text>
<text x="330.82" y="514.6" text-anchor="middle">1.5</text>
<text x="393.16" y="514.6" text-anchor="middle">2</text>
<text x="455.50" y="514.6" text-anchor="middle">2.5</text>
<text x="517.85" y="514.6" text-anchor="middle">3</text>
<text x="580.19" y="514.6" text-anchor="middle">3.5</text>
<text x="642.53" y="514.6" text-anchor="middle">4</text>
<text x="143.80" y="53" text-anchor="middle">0</text>
<text x="221.36" y="53" text-anchor="middle">0.2</text>
<text x="298.92" y="53" text-anchor="middle">0.4</text>
<text x="376.48" y="53" text-anchor="middle">0.6</text>
<text x="454.04" y="53" text-anchor="middle">0.8</text>
<text x="531.60" y="53" text-anchor="middle">1</text>
<text x="609.16" y="53" text-anchor="middle">1.2</text>
<text x="686.72" y="53" text-anchor="middle">1.4</text>
<text x="127.3" y="492.00" text-anchor="end">0</text>
<text x="127.3" y="442.58" text-anchor="end">0.1</text>
<text x="127.3" y="393.17" text-anchor="end">0.2</text>
<text x="127.3" y="343.75" text-anchor="end">0.3</text>
<text x="127.3" y="294.33" text-anchor="end">0.4</text>
<text x="127.3" y="244.92" text-anchor="end">0.5</text>
<text x="127.3" y="195.50" text-anchor="end">0.6</text>
<text x="127.3" y="146.08" text-anchor="end">0.7</text>
<text x="127.3" y="96.67" text-anchor="end">0.8</text>
<text x="710.5" y="492.00">0</text>
<text x="710.5" y="450.49">0.1</text>
<text x="710.5" y="408.98">0.2</text>
<text x="710.5" y="367.47">0.3</text>
<text x="710.5" y="325.96">0.4</text>
<text x="710.5" y="284.45">0.5</text>
<text x="710.5" y="242.94">0.6</text>
<text x="710.5" y="201.43">0.7</text>
<text x="710.5" y="159.92">0.8</text>
<text x="710.5" y="118.41">0.9</text>
<text x="710.5" y="76.90">1</text>
<text x="415.2" y="16.5" text-anchor="middle"><tspan class="i">d</tspan><tspan font-size="18.400000000000002" dy="7.7" dx="0">0</tspan><tspan dy="-7.7" font-size="1">&#8203;</tspan> = 2·<tspan class="i">r</tspan><tspan font-size="18.400000000000002" dy="7.7" dx="-1.2">0</tspan><tspan dy="-7.7" font-size="1">&#8203;</tspan> [arcsec]</text>
<text x="415.3" y="546.4" text-anchor="middle"><tspan class="i">r</tspan><tspan font-size="18.400000000000002" dy="7.7" dx="-1.2">0</tspan><tspan dy="-7.7" font-size="1">&#8203;</tspan> [kpc]</text>
<text transform="translate(51,276.5) rotate(-90)" text-anchor="middle"><tspan class="i">f</tspan><tspan font-size="18.400000000000002" dy="7.7" dx="-1">gas</tspan><tspan dy="-7.7" font-size="1">&#8203;</tspan> = M<tspan font-size="18.400000000000002" dy="7.7" dx="0">gas</tspan><tspan dy="-7.7" font-size="1">&#8203;</tspan>/M<tspan font-size="18.400000000000002" dy="7.7" dx="0">dyn</tspan><tspan dy="-7.7" font-size="1">&#8203;</tspan></text>
<text transform="translate(778.5,277) rotate(90)" text-anchor="middle"><tspan class="i">f</tspan><tspan font-size="18.400000000000002" dy="7.7" dx="0">bary</tspan><tspan dy="-7.7" font-size="1">&#8203;</tspan> = [M<tspan font-size="18.400000000000002" dy="7.7" dx="0">gas</tspan><tspan dy="-7.7" font-size="1">&#8203;</tspan><tspan dy="1.8">+</tspan><tspan dy="-1.8">M</tspan><tspan font-size="15" dy="3.7">*</tspan><tspan dy="-3.7" dx="0.8">]</tspan>/M<tspan font-size="18.400000000000002" dy="7.7" dx="0">dyn</tspan><tspan dy="-7.7" font-size="1">&#8203;</tspan></text>
<text x="549.2" y="100.7" text-anchor="end"><tspan class="i">i</tspan><tspan dx="-1.2">=15°</tspan></text>
<path d="M563,94.00 H629.5" stroke="#000000" stroke-width="1.45" fill="none" stroke-dasharray="2.71 1.91 2.71 6.53"/>
<text x="549.2" y="124" text-anchor="end"><tspan class="i">i</tspan><tspan dx="-1.2">=30°</tspan></text>
<path d="M563,117.20 H629.5" stroke="#ff00ff" stroke-width="1.45" fill="none" stroke-dasharray="1.56 1.33"/>
<text x="549.2" y="147.1" text-anchor="end"><tspan class="i">i</tspan><tspan dx="-1.2">=45°</tspan></text>
<path d="M563,140.30 H629.5" stroke="#0000ff" stroke-width="1.45" fill="none" stroke-dasharray="2.71 3.06"/>
<text x="549.2" y="170.3" text-anchor="end"><tspan class="i">i</tspan><tspan dx="-1.2">=60°</tspan></text>
<path d="M563,163.30 H629.5" stroke="#00ff00" stroke-width="1.45" fill="none" stroke-dasharray="5.02 1.91"/>
<text x="549.2" y="193.6" text-anchor="end"><tspan class="i">i</tspan><tspan dx="-1.2">=90°</tspan></text>
<path d="M563,186.20 H629.5" stroke="#ff0000" stroke-width="1.45" fill="none"/>
<text x="345" y="178.9"><tspan class="i">f</tspan><tspan font-size="18.400000000000002" dy="7.7" dx="-2.9">DM</tspan><tspan dy="-7.7" font-size="1">&#8203;</tspan><tspan dx="1">=0.25±0.1</tspan></text>
<text transform="translate(221.3,422) rotate(-90)"><tspan class="i">r</tspan><tspan font-size="18.400000000000002" dy="7.7" dx="-1.2">Edd</tspan><tspan dy="-7.7" font-size="1">&#8203;</tspan></text>
</g>
<text class="i" font-size="20.5" transform="translate(668,214) rotate(-90)">CO upper limit</text>
<text class="i" font-size="16.2" transform="translate(236.5,428) rotate(15)">v<tspan font-size="11.5" dy="6.6" dx="-1.2" style="font-style:normal">CO</tspan><tspan dy="-6.6">&gt;1200km/s</tspan></text>
</g></svg></body></html>
